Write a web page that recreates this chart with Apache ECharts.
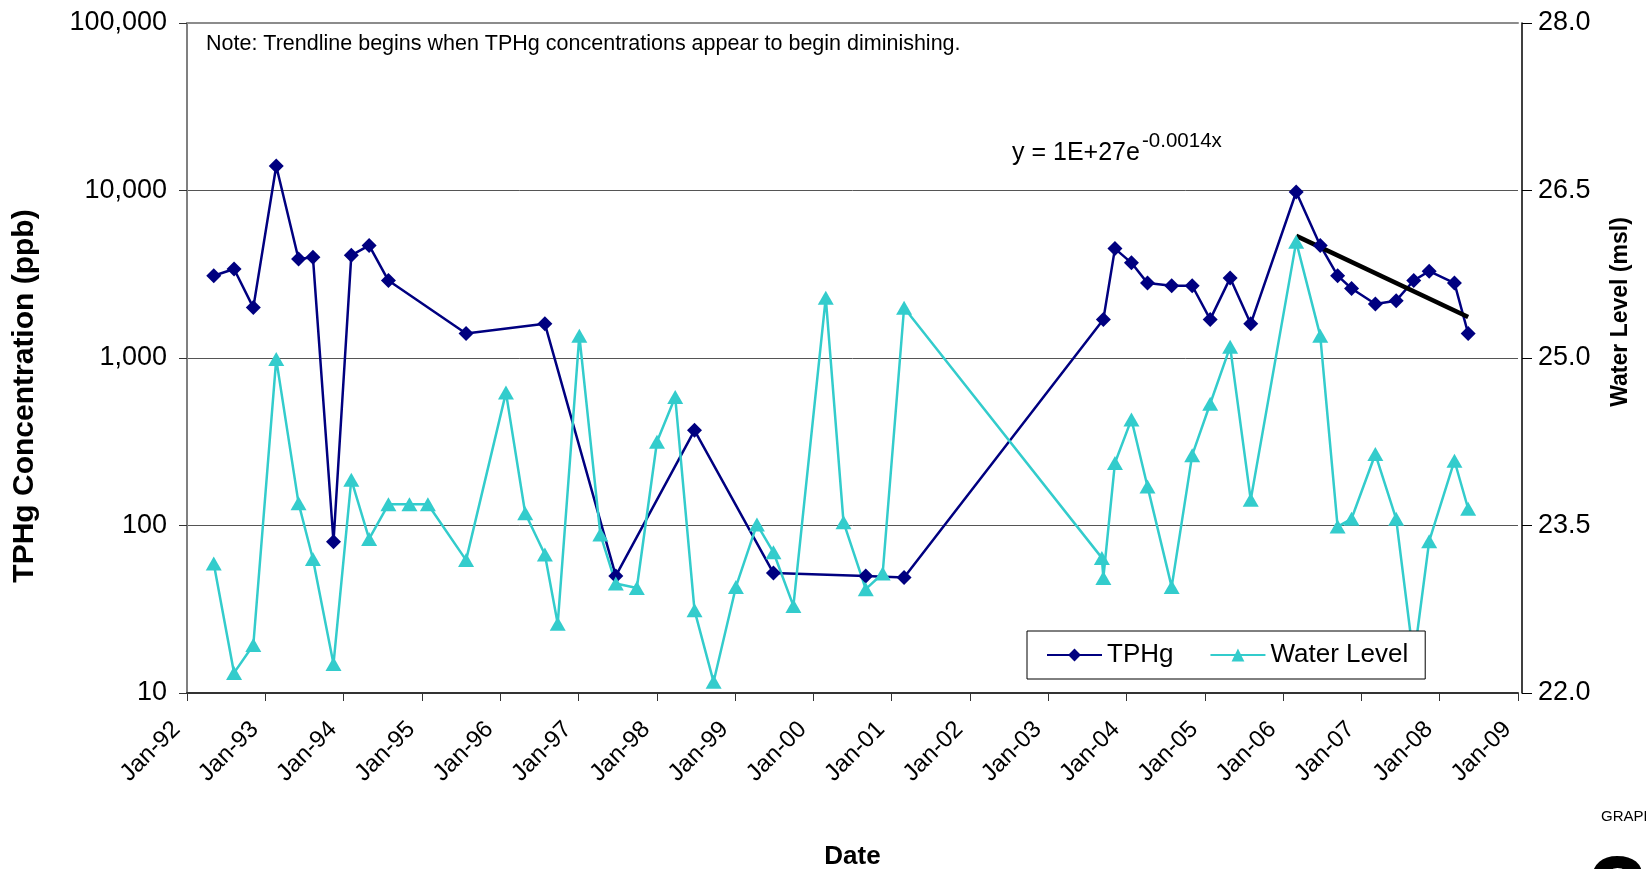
<!DOCTYPE html>
<html>
<head>
<meta charset="utf-8">
<script src="https://cdn.jsdelivr.net/npm/echarts@6/dist/echarts.min.js"></script>
<style>
  html, body { margin: 0; padding: 0; background: #fff; }
  #chart { width: 1646px; height: 869px; }
</style>
</head>
<body>
<div id="chart"></div>
<script>
// TPHg sampling dates and concentrations (ppb)
const tphgDates = [
  '1992-05-05', '1992-08-08', '1992-11-06', '1993-02-21', '1993-06-05', '1993-08-11',
  '1993-11-15', '1994-02-06', '1994-04-30', '1994-07-29', '1995-07-26', '1996-07-28',
  '1997-06-24', '1998-06-26', '1999-06-29', '2000-09-02', '2001-02-28', '2003-09-15',
  '2003-11-08', '2004-01-24', '2004-04-08', '2004-07-30', '2004-11-03', '2005-01-26',
  '2005-04-29', '2005-08-03', '2006-03-03', '2006-06-23', '2006-09-12', '2006-11-16',
  '2007-03-07', '2007-06-12', '2007-09-02', '2007-11-13', '2008-03-10', '2008-05-13'
];
const tphg = [
  3100, 3400, 2000, 14000, 3900, 4000,
  80, 4100, 4700, 2900, 1400, 1600,
  50, 370, 52, 50, 49, 1700,
  4500, 3700, 2800, 2700, 2700, 1700,
  3000, 1600, 9800, 4700, 3100, 2600,
  2100, 2200, 2900, 3300, 2800, 1400
];

// water level dates and elevations (msl)
const wlDates = [
  '1992-05-05', '1992-08-08', '1992-11-06', '1993-02-21', '1993-06-05', '1993-08-11',
  '1993-11-15', '1994-02-06', '1994-04-30', '1994-07-29', '1994-11-04', '1995-01-29',
  '1995-07-26', '1996-01-28', '1996-04-27', '1996-07-28', '1996-09-26', '1997-01-05',
  '1997-04-13', '1997-06-24', '1997-09-30', '1998-01-02', '1998-03-28', '1998-06-26',
  '1998-09-23', '1999-01-05', '1999-04-13', '1999-06-29', '1999-09-30', '2000-02-28',
  '2000-05-21', '2000-09-02', '2000-11-20', '2001-02-28', '2003-09-08', '2003-09-15',
  '2003-11-08', '2004-01-24', '2004-04-08', '2004-07-30', '2004-11-03', '2005-01-26',
  '2005-04-29', '2005-08-03', '2006-03-03', '2006-06-23', '2006-09-12', '2006-11-16',
  '2007-03-07', '2007-06-12', '2007-09-02', '2007-11-13', '2008-03-10', '2008-05-13'
];
const waterLevel = [
  23.16, 22.18, 22.43, 24.99, 23.70, 23.20,
  22.26, 23.91, 23.38, 23.69, 23.69, 23.69,
  23.19, 24.69, 23.61, 23.24, 22.62, 25.20,
  23.42, 22.98, 22.94, 24.25, 24.65, 22.74,
  22.10, 22.95, 23.51, 23.26, 22.78, 25.54,
  23.53, 22.93, 23.07, 25.45, 23.21, 23.03,
  24.06, 24.45, 23.85, 22.95, 24.13, 24.59,
  25.10, 23.73, 26.04, 25.20, 23.49, 23.56,
  24.14, 23.56, 22.30, 23.36, 24.08, 23.65
];

// trendline starts here (exponential fit of the later TPHg results)
const trendStart = '2006-03-03';

const font = 'Liberation Sans, Arial, sans-serif';

// date string -> fractional year, so Jan 1 sits exactly on a whole number
function toYear(s) {
  const [y, m, d] = s.split('-').map(Number);
  const a = Date.UTC(y, 0, 1), b = Date.UTC(y + 1, 0, 1);
  return y + (Date.UTC(y, m - 1, d) - a) / (b - a);
}

const tphgData = tphgDates.map((d, i) => [toYear(d), tphg[i]]);
const wlData = wlDates.map((d, i) => [toYear(d), waterLevel[i]]);

// least squares on log values = exponential trendline
const fitPts = tphgData.filter((p, i) => tphgDates[i] >= trendStart);
const mx = fitPts.reduce((s, p) => s + p[0], 0) / fitPts.length;
const my = fitPts.reduce((s, p) => s + Math.log10(p[1]), 0) / fitPts.length;
let sxy = 0, sxx = 0;
fitPts.forEach(p => {
  sxy += (p[0] - mx) * (Math.log10(p[1]) - my);
  sxx += (p[0] - mx) * (p[0] - mx);
});
const slope = sxy / sxx;
const trendData = [fitPts[0][0], fitPts[fitPts.length - 1][0]].map(x => [x, Math.pow(10, my + slope * (x - mx))]);

const chart = echarts.init(document.getElementById('chart'));
chart.setOption({
  animation: false,
  backgroundColor: '#fff',
  textStyle: { fontFamily: font },
  grid: { left: 187, right: 128, top: 23, bottom: 176, outerBoundsMode: 'none' },
  legend: {
    data: ['TPHg', 'Water Level'],
    left: 1027,
    top: 631,
    orient: 'horizontal',
    backgroundColor: '#fff',
    borderColor: '#000',
    borderWidth: 1,
    borderRadius: 0,
    padding: [11, 17, 11, 19],
    itemGap: 36,
    itemWidth: 55,
    itemHeight: 16,
    textStyle: { fontSize: 26, color: '#000', fontFamily: font }
  },
  xAxis: [
    {
      type: 'value',
      min: 1992,
      max: 2009,
      interval: 1,
      name: 'Date',
      nameLocation: 'middle',
      nameGap: 151,
      nameTextStyle: { fontSize: 26, fontWeight: 'bold', color: '#000' },
      axisLine: { lineStyle: { color: '#333', width: 2 } },
      axisTick: { length: 8, lineStyle: { color: '#333', width: 1 } },
      axisLabel: {
        rotate: 45,
        margin: 22,
        padding: [0, 15, 0, 0],
        fontSize: 24,
        color: '#000',
        formatter: v => 'Jan-' + String(v).slice(2)
      },
      splitLine: { show: false }
    },
    {
      type: 'value',
      position: 'top',
      min: 1992,
      max: 2009,
      axisLine: { lineStyle: { color: '#8c8c8c', width: 2 } },
      axisTick: { show: false },
      axisLabel: { show: false },
      splitLine: { show: false }
    }
  ],
  yAxis: [
    {
      type: 'log',
      logBase: 10,
      min: 10,
      max: 100000,
      axisLine: { show: true, lineStyle: { color: '#808080', width: 2 } },
      axisTick: { show: true, length: 8, lineStyle: { color: '#333' } },
      axisLabel: {
        fontSize: 27,
        color: '#000',
        margin: 20,
        formatter: v => Math.round(v).toLocaleString('en-US')
      },
      splitLine: { show: true, lineStyle: { color: '#555', width: 1 } }
    },
    {
      type: 'value',
      min: 22,
      max: 28,
      interval: 1.5,
      position: 'right',
      offset: 4,
      axisLine: { show: true, lineStyle: { color: '#000', width: 1.5 } },
      axisTick: { show: true, length: 10, lineStyle: { color: '#000' } },
      axisLabel: {
        fontSize: 27,
        color: '#000',
        margin: 16,
        formatter: v => v.toFixed(1)
      },
      splitLine: { show: false }
    }
  ],
  series: [
    {
      name: 'TPHg',
      type: 'line',
      xAxisIndex: 0,
      yAxisIndex: 0,
      data: tphgData,
      symbol: 'diamond',
      symbolSize: 15,
      color: '#000080',
      lineStyle: { color: '#000080', width: 2.5 },
      itemStyle: { color: '#000080' }
    },
    {
      name: 'Water Level',
      type: 'line',
      xAxisIndex: 0,
      yAxisIndex: 1,
      data: wlData,
      symbol: 'triangle',
      symbolSize: [16, 14],
      color: '#33cccc',
      lineStyle: { color: '#33cccc', width: 2.5 },
      itemStyle: { color: '#33cccc' }
    },
    {
      name: 'Trend',
      type: 'line',
      xAxisIndex: 0,
      yAxisIndex: 0,
      data: trendData,
      symbol: 'none',
      lineStyle: { color: '#000', width: 4.5 },
      silent: true
    }
  ],
  graphic: [
    {
      type: 'text',
      x: 25,
      y: 396,
      rotation: Math.PI / 2,
      style: {
        text: 'TPHg Concentration (ppb)',
        fontSize: 30,
        fontWeight: 'bold',
        fontFamily: font,
        fill: '#000',
        align: 'center',
        verticalAlign: 'middle'
      }
    },
    {
      type: 'text',
      x: 1621,
      y: 312,
      rotation: Math.PI / 2,
      style: {
        text: 'Water Level (msl)',
        fontSize: 23,
        fontWeight: 'bold',
        fontFamily: font,
        fill: '#000',
        align: 'center',
        verticalAlign: 'middle'
      }
    },
    {
      type: 'text',
      left: 206,
      top: 33,
      style: {
        text: 'Note: Trendline begins when TPHg concentrations appear to begin diminishing.',
        fontSize: 21.5,
        fontFamily: font,
        fill: '#000'
      }
    },
    {
      type: 'text',
      left: 1012,
      top: 141,
      style: { text: 'y = 1E+27e', fontSize: 25, fontFamily: font, fill: '#000' }
    },
    {
      type: 'text',
      left: 1142,
      top: 131,
      style: { text: '-0.0014x', fontSize: 20.5, fontFamily: font, fill: '#000' }
    },
    {
      type: 'text',
      left: 1601,
      top: 809,
      style: { text: 'GRAPH', fontSize: 15, fontFamily: font, fill: '#000' }
    },
    {
      type: 'text',
      left: 1587,
      top: 848,
      style: { text: '2', fontSize: 110, fontWeight: 'bold', fontFamily: font, fill: '#000' }
    }
  ]
});
</script>
</body>
</html>
